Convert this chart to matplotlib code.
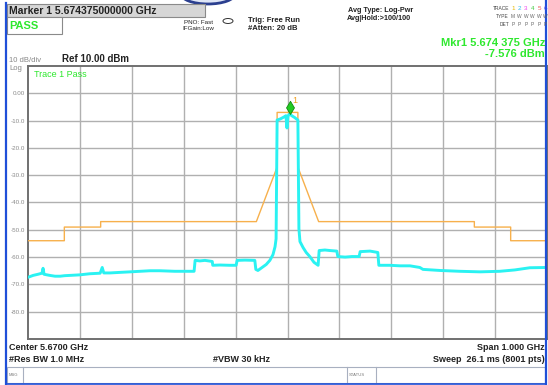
import numpy as np
import matplotlib.pyplot as plt
from matplotlib.patches import Rectangle, Ellipse
from matplotlib.path import Path

plt.rcParams['font.family'] = ['Liberation Sans', 'DejaVu Sans']

# analyzer settings
f_start = 5.17
f_stop = 6.17
ref_level = 10
bottom_level = -90

ytick_values = [0, -10, -20, -30, -40, -50, -60, -70, -80]
ytick_labels = ["0.00", "-10.0", "-20.0", "-30.0", "-40.0", "-50.0", "-60.0", "-70.0", "-80.0"]

# trace 1 (averaged log power)
trace_freq = [5.170, 5.180, 5.189, 5.197, 5.199, 5.201, 5.212, 5.222, 5.232, 5.241,
              5.251, 5.270, 5.289, 5.309, 5.313, 5.316, 5.328, 5.347, 5.367, 5.386,
              5.405, 5.424, 5.453, 5.490, 5.492, 5.501, 5.511, 5.525, 5.526, 5.540,
              5.559, 5.571, 5.573, 5.588, 5.607, 5.609, 5.613, 5.621, 5.629, 5.636,
              5.642, 5.646, 5.648, 5.650, 5.656, 5.663, 5.667, 5.669, 5.671, 5.674,
              5.679, 5.684, 5.690, 5.692, 5.694, 5.700, 5.706, 5.713, 5.721, 5.729,
              5.731, 5.742, 5.752, 5.765, 5.767, 5.781, 5.794, 5.808, 5.810, 5.829,
              5.844, 5.846, 5.867, 5.887, 5.906, 5.925, 5.931, 5.964, 6.002, 6.041,
              6.079, 6.108, 6.137, 6.170]
trace_dbm = [-67.4, -66.7, -66.3, -65.9, -64.1, -66.3, -66.7, -67.0, -67.0, -66.8,
             -66.7, -66.5, -66.1, -65.9, -63.8, -65.8, -65.8, -65.6, -65.4, -65.2,
             -65.0, -65.0, -65.2, -65.2, -61.2, -61.4, -61.2, -61.6, -63.0, -62.9,
             -63.0, -63.0, -61.2, -61.1, -61.2, -64.5, -64.9, -63.8, -62.7, -61.2,
             -59.1, -56.2, -53.3, -9.8, -9.4, -8.7, -8.2, -12.7, -8.3, -7.6,
             -8.3, -8.9, -9.8, -49.6, -54.3, -56.5, -58.3, -59.8, -61.9, -63.0,
             -57.6, -57.4, -57.6, -57.8, -59.8, -60.0, -59.8, -59.8, -58.0, -57.8,
             -58.3, -63.0, -63.0, -63.2, -63.2, -63.8, -64.5, -64.9, -65.2, -65.4,
             -65.2, -64.7, -63.9, -63.8]

# spectral emission mask (limit line)
limit_freq = [5.17, 5.24, 5.24, 5.31, 5.31, 5.61, 5.65, 5.65, 5.69, 5.69,
              5.73, 6.03, 6.03, 6.10, 6.10, 6.17]
limit_dbm = [-54, -54, -49, -49, -47, -47, -27, -7, -7, -27,
             -47, -47, -49, -49, -54, -54]

marker_freq = 5.674375
marker_dbm = -7.576

W, H = 548, 385
GREEN = '#2ee82e'


def px_box(x0, y0, x1, y1):
    return [x0 / W, 1 - y1 / H, (x1 - x0) / W, (y1 - y0) / H]


fig = plt.figure(figsize=(5.48, 3.85), dpi=100)
fig.patch.set_facecolor('white')

ax = fig.add_axes(px_box(28, 66, 547, 339))
ax.set_xlim(f_start, f_stop)
ax.set_ylim(bottom_level, ref_level)
ax.set_xticks(np.linspace(f_start, f_stop, 11)[1:-1])
ax.set_xticklabels([])
ax.set_yticks(ytick_values)
ax.set_yticklabels(ytick_labels, fontsize=4.5, color='#8a8a8a')
ax.tick_params(length=0, pad=2)
ax.grid(True, color='#b0b0b0', lw=1.0)
for sp in ax.spines.values():
    sp.set_color('#707070')
    sp.set_linewidth(1.4)

ax.plot(limit_freq, limit_dbm, color='#f7b04c', lw=1.0, zorder=3)
ax.plot(trace_freq, trace_dbm, color='#2af2f2', lw=2.1, zorder=4)

diamond = Path([(0, 0), (0.6, 1), (0, 2), (-0.6, 1), (0, 0)],
               [Path.MOVETO, Path.LINETO, Path.LINETO, Path.LINETO, Path.CLOSEPOLY])
ax.plot([marker_freq], [marker_dbm], marker=diamond, ms=19, ls='none',
        mfc='#22cc22', mec='#128a12', mew=0.6, zorder=5)
ax.annotate('1', (marker_freq, marker_dbm), xytext=(3.8, 9.4), textcoords='offset points',
            ha='center', va='center', color='#f0a020', fontsize=6.5, zorder=6)
ax.text(0.011, 0.97, 'Trace 1 Pass', transform=ax.transAxes, color=GREEN,
        fontsize=6.5, va='center', ha='left')

# screen furniture in pixel coordinates
ov = fig.add_axes([0, 0, 1, 1])
ov.set_xlim(0, W)
ov.set_ylim(H, 0)
ov.axis('off')

ov.add_patch(Ellipse((208, -6), 54, 20, facecolor='#dfe6f6', edgecolor='#2b3f8f', lw=2))
ov.add_patch(Rectangle((7, 4), 198, 13, facecolor='#d6d6d6', edgecolor='#8a8a8a', lw=0.8))
ov.text(9, 11, 'Marker 1 5.674375000000 GHz', fontsize=7.5, weight='bold', color='#222222', va='center')
ov.add_patch(Rectangle((7, 17), 55, 17, facecolor='white', edgecolor='#8a8a8a', lw=0.8))
ov.text(9, 26, 'PASS', fontsize=8, weight='bold', color=GREEN, va='center')

ov.text(198, 22, 'PNO: Fast', fontsize=4.5, ha='center', va='center', color='#222222')
ov.text(198, 29, 'IFGain:Low', fontsize=4.5, ha='center', va='center', color='#222222')
ov.add_patch(Ellipse((228, 21), 10, 5, facecolor='none', edgecolor='#333333', lw=0.7))
ov.text(248, 20, 'Trig: Free Run', fontsize=5.5, weight='bold', va='center', color='#222222')
ov.text(248, 28, '#Atten: 20 dB', fontsize=5.5, weight='bold', va='center', color='#222222')
ov.text(348, 10, 'Avg Type: Log-Pwr', fontsize=5.2, weight='bold', va='center', color='#222222')
ov.text(347, 19, 'Avg|Hold:>100/100', fontsize=5.2, weight='bold', va='center', color='#222222')

trace_colors = ['#e6b800', '#33bbee', '#ee44ee', '#44cc44', '#ee5555', '#4444ee']
ov.text(509, 9, 'TRACE', fontsize=3.5, ha='right', va='center', color='#444444')
ov.text(509, 17, 'TYPE', fontsize=3.5, ha='right', va='center', color='#444444')
ov.text(509, 24, 'DET', fontsize=3.5, ha='right', va='center', color='#444444')
for i, c in enumerate(trace_colors):
    ov.text(513 + 6.5 * i, 9, str(i + 1), fontsize=4.5, ha='center', va='center', color=c)
    ov.text(513 + 6.5 * i, 17, 'M' if i == 0 else 'W', fontsize=3.5, ha='center', va='center', color='#666666')
    ov.text(513 + 6.5 * i, 24, 'P', fontsize=3.5, ha='center', va='center', color='#666666')

ov.text(545, 43, 'Mkr1 5.674 375 GHz', fontsize=8, weight='bold', color=GREEN, ha='right', va='center')
ov.text(545, 54, '-7.576 dBm', fontsize=8, weight='bold', color=GREEN, ha='right', va='center')

ov.text(9, 61, '10 dB/div', fontsize=5.5, color='#888888', va='center')
ov.text(9, 68, 'Log', fontsize=5.5, color='#888888', va='center')
ov.text(62, 59, 'Ref 10.00 dBm', fontsize=7, weight='bold', color='#222222', va='center')

ov.text(9, 347, 'Center 5.6700 GHz', fontsize=6.5, weight='bold', color='#222222', va='center')
ov.text(545, 347, 'Span 1.000 GHz', fontsize=6.5, weight='bold', color='#222222', va='center', ha='right')
ov.text(9, 359, '#Res BW 1.0 MHz', fontsize=6.5, weight='bold', color='#222222', va='center')
ov.text(213, 359, '#VBW 30 kHz', fontsize=6.5, weight='bold', color='#222222', va='center')
ov.text(545, 359, 'Sweep  26.1 ms (8001 pts)', fontsize=6.5, weight='bold', color='#222222', va='center', ha='right')

ov.add_patch(Rectangle((7, 367), 538, 16, facecolor='white', edgecolor='#a8b0c0', lw=0.8))
for xs in [23, 347, 376]:
    ov.plot([xs, xs], [367, 383], color='#a8b0c0', lw=0.8)
ov.text(9, 375, 'MSG', fontsize=3, color='#777777', va='center')
ov.text(349, 375, 'STATUS', fontsize=3, color='#777777', va='center')

# blue bezel lines
ov.plot([6, 6], [3, 384], color='#1f4fd8', lw=1.6)
ov.plot([546, 546], [0, 384], color='#1f4fd8', lw=1.6)
ov.plot([6, 546], [384, 384], color='#1f4fd8', lw=1.2)

fig.savefig('out.png', dpi=100)
